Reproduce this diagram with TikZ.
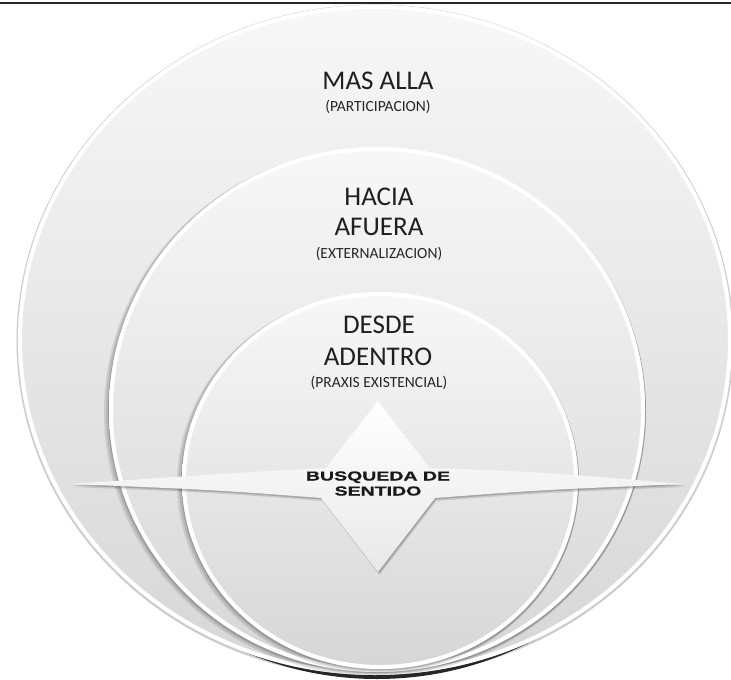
\documentclass[tikz,border=0pt]{standalone}
\usepackage{fontspec}
\setmainfont{Carlito}
\newfontfamily\busqfont[BoldFeatures={FakeBold=0.7}]{Liberation Sans}
\begin{document}
\begin{tikzpicture}[x=1pt,y=-1pt,
  title/.style={anchor=base,inner sep=0pt,font=\fontsize{27}{31}\selectfont,text=black!88},
  sub/.style={anchor=base,inner sep=0pt,font=\fontsize{15.5}{18}\selectfont,text=black!85},
  core/.style={anchor=base,inner sep=0pt,font=\busqfont\bfseries\fontsize{13}{13}\selectfont,text=black!90},
  ringfill/.style={top color=gray!6,bottom color=gray!32},
  rim/.style={draw=white,line width=4pt},
  softshadow/.style={fill=black,opacity=0.10}
]
\useasboundingbox (0,0) rectangle (731,680);
\fill[white] (0,0) rectangle (731,680);
\draw[line width=2pt,black!85] (0,2.5) -- (731,2.5);

% ---- outer circle ----
\fill[gray!40] (375,341) ellipse [x radius=358.5pt,y radius=336.5pt];
\fill[black!85] (377,344) ellipse [x radius=335pt,y radius=335pt];
\shade[ringfill] (375,340) ellipse [x radius=357pt,y radius=335pt];
\draw[rim] (375,340) ellipse [x radius=355pt,y radius=333pt];

% ---- middle circle ----
\fill[softshadow] (375,412) ellipse [x radius=271pt,y radius=264pt];
\fill[softshadow] (376,411) ellipse [x radius=270pt,y radius=263.5pt];
\fill[black,opacity=0.15] (377,410.5) ellipse [x radius=269pt,y radius=263pt];
\shade[ringfill] (377,409.5) ellipse [x radius=268pt,y radius=262.5pt];
\draw[rim] (377,409.5) ellipse [x radius=266pt,y radius=260.5pt];

% ---- inner circle ----
\fill[softshadow] (378,483) ellipse [x radius=201pt,y radius=190pt];
\fill[softshadow] (379,482) ellipse [x radius=200pt,y radius=189.5pt];
\fill[black,opacity=0.15] (380,481.5) ellipse [x radius=199pt,y radius=189pt];
\shade[ringfill] (380,480.5) ellipse [x radius=198pt,y radius=188.5pt];
\draw[rim] (380,480.5) ellipse [x radius=196pt,y radius=186.5pt];

% ---- star (diamond + lens) ----
\begin{scope}[shift={(1.5,3)}]
\fill[black,opacity=0.12] (378,401) -- (430,468) .. controls (540,472) .. (684,484)
  .. controls (540,490) .. (435,498) -- (378,572) -- (321,498)
  .. controls (216,490) .. (72,484) .. controls (216,474) .. (326,468) -- cycle;
\end{scope}
\begin{scope}[shift={(1,1.5)}]
\fill[black,opacity=0.18] (378,401) -- (430,468) .. controls (540,472) .. (684,484)
  .. controls (540,490) .. (435,498) -- (378,572) -- (321,498)
  .. controls (216,490) .. (72,484) .. controls (216,474) .. (326,468) -- cycle;
\end{scope}
\shade[top color=white,middle color=white,bottom color=gray!18]
  (378,401) -- (430,468) .. controls (540,472) .. (684,484)
  .. controls (540,490) .. (435,498) -- (378,572) -- (321,498)
  .. controls (216,490) .. (72,484) .. controls (216,474) .. (326,468) -- cycle;

% ---- texts ----
\node[title] (mas) at (378,89) {MAS ALLA};
\node[sub] (part) at (378,111) {(PARTICIPACION)};
\node[title] (hacia) at (379,205) {HACIA};
\node[title] (afuera) at (379,235) {AFUERA};
\node[sub] (ext) at (379,258) {(EXTERNALIZACION)};
\node[title] (desde) at (379,333) {DESDE};
\node[title] (adentro) at (378,365) {ADENTRO};
\node[sub] (praxis) at (379,387) {(PRAXIS EXISTENCIAL)};
\node[core] (busq) at (378,480.5) {\scalebox{1.5}[1]{BUSQUEDA DE}};
\node[core] (sent) at (378,495.5) {\scalebox{1.5}[1]{SENTIDO}};
\end{tikzpicture}
\end{document}
